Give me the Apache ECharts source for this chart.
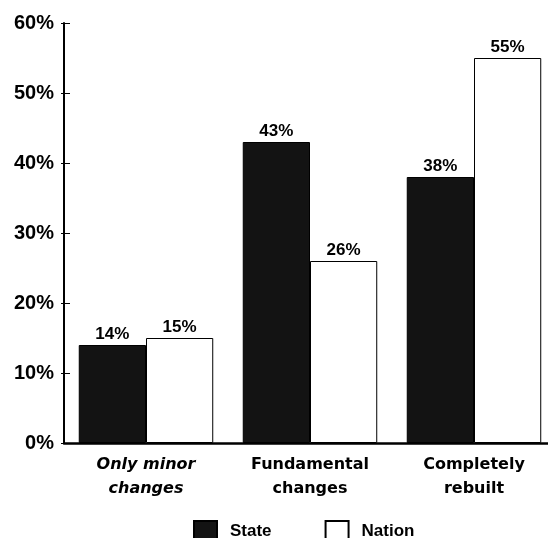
<!DOCTYPE html>
<html>
<head>
<meta charset="utf-8">
<script src="https://cdn.jsdelivr.net/npm/echarts@6/dist/echarts.min.js"></script>
<style>
  html, body { margin: 0; padding: 0; background: #fff; }
  #chart { width: 548px; height: 538px; }
</style>
</head>
<body>
<div id="chart"></div>
<script>
// Share of respondents by extent of change, state vs. nation
const categories = ['Only minor\nchanges', 'Fundamental\nchanges', 'Completely\nrebuilt'];
const stateValues = [14, 43, 38];
const nationValues = [15, 26, 55];
const yTicks = { min: 0, max: 60, interval: 10 };

const font = '"Liberation Sans", Arial, Helvetica, sans-serif';
const wideFont = '"DejaVu Sans", "Liberation Sans", sans-serif';

const chart = echarts.init(document.getElementById('chart'), null, { renderer: 'canvas' });

const barLabel = {
  show: true,
  position: 'top',
  distance: 2,
  formatter: '{c}%',
  color: '#000',
  fontFamily: font,
  fontWeight: 'bold',
  fontSize: 17
};

chart.setOption({
  animation: false,
  textStyle: { fontFamily: font, color: '#000' },
  // plot area runs slightly past the right edge of the canvas
  grid: { left: 64, top: 23, bottom: 95, width: 492, outerBoundsMode: 'none', containLabel: false },
  legend: {
    left: 188,
    top: 515,
    icon: 'rect',
    itemWidth: 23,
    itemHeight: 20,
    itemGap: 53,
    textStyle: { fontFamily: font, fontWeight: 'bold', fontSize: 17, color: '#000', padding: [0, 0, 0, 8] },
    data: ['State', 'Nation']
  },
  xAxis: {
    type: 'category',
    data: categories.map((c, i) => i === 0 ? { value: c, textStyle: { fontStyle: 'italic' } } : c),
    axisLine: { lineStyle: { color: '#000', width: 2.5 } },
    axisTick: { show: false },
    axisLabel: {
      color: '#000',
      fontFamily: wideFont,
      fontWeight: 'bold',
      fontSize: 16,
      lineHeight: 24,
      margin: 10,
      interval: 0
    }
  },
  yAxis: [
    {
      type: 'value',
      min: yTicks.min,
      max: yTicks.max,
      interval: yTicks.interval,
      axisLine: { show: true, lineStyle: { color: '#000', width: 2 } },
      axisTick: { show: true, length: 3, lineStyle: { color: '#000', width: 1 } },
      splitLine: { show: false },
      axisLabel: {
        formatter: '{value}%',
        color: '#000',
        fontFamily: font,
        fontWeight: 'bold',
        fontSize: 20,
        margin: 10
      }
    },
    {
      type: 'value',
      position: 'left',
      min: yTicks.min,
      max: yTicks.max,
      interval: yTicks.interval,
      axisLine: { show: false },
      axisTick: { show: true, inside: true, length: 6, lineStyle: { color: '#000', width: 1 } },
      splitLine: { show: false },
      axisLabel: { show: false }
    }
  ],
  series: [
    {
      name: 'State',
      type: 'bar',
      data: stateValues,
      barGap: '0%',
      barCategoryGap: '18%',
      itemStyle: { color: '#131313', borderColor: '#000', borderWidth: 1 },
      label: barLabel
    },
    {
      name: 'Nation',
      type: 'bar',
      data: nationValues,
      itemStyle: { color: '#fff', borderColor: '#000', borderWidth: 1 },
      label: barLabel
    }
  ]
});
</script>
</body>
</html>
